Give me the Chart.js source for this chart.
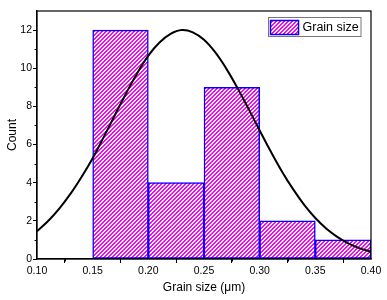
<!DOCTYPE html>
<html>
<head>
<meta charset="utf-8">
<script src="https://cdn.jsdelivr.net/npm/chart.js@4"></script>
<style>
html,body{margin:0;padding:0;background:#ffffff;}
#wrap{width:387px;height:300px;position:relative;}
</style>
</head>
<body>
<div id="wrap"><canvas id="c" width="387" height="300"></canvas></div>
<script>
// ---- data ----
const binCenters = [0.175, 0.225, 0.275, 0.325, 0.375];
const counts = [12, 4, 9, 2, 1];
const curveX = [0.10,0.11,0.12,0.13,0.14,0.15,0.16,0.17,0.18,0.19,0.20,0.21,0.22,0.23,0.24,0.25,0.26,0.27,0.28,0.29,0.30,0.31,0.32,0.33,0.34,0.35,0.36,0.37,0.38,0.39,0.40];
const curveY = [1.46,1.99,2.64,3.41,4.30,5.28,6.40,7.55,8.68,9.74,10.66,11.35,11.80,12.00,11.88,11.49,10.84,9.98,8.97,7.87,6.74,5.63,4.59,3.66,2.84,2.15,1.59,1.15,0.81,0.56,0.38];
const xTicks = [0.10, 0.15, 0.20, 0.25, 0.30, 0.35, 0.40];
const xMinorTicks = [0.125, 0.175, 0.225, 0.275, 0.325, 0.375];
const yTicks = [0, 2, 4, 6, 8, 10, 12];
const yMinorTicks = [1, 3, 5, 7, 9, 11];
const seriesName = 'Grain size';
const xTitle = 'Grain size (μm)';
const yTitle = 'Count';

// crisp pixel hatch pattern ("/" direction)
function makeHatch(){
  const t = document.createElement('canvas');
  const s = 4;
  t.width = s; t.height = s;
  const g = t.getContext('2d');
  g.fillStyle = '#ffffff';
  g.fillRect(0,0,s,s);
  g.fillStyle = '#ff00ff';
  for (let y = 0; y < s; y++) {
    for (let x = 0; x < s; x++) {
      if (((x + y) % s) < 2) g.fillRect(x, y, 1, 1);
    }
  }
  return document.getElementById('c').getContext('2d').createPattern(t, 'repeat');
}
const hatch = makeHatch();
const FONT = "Arial, 'Liberation Sans', sans-serif";

const framePlugin = {
  id: 'frame',
  afterDraw(chart){
    const {ctx, chartArea: a, scales} = chart;
    ctx.save();
    ctx.strokeStyle = '#000';
    ctx.lineWidth = 1.2;
    ctx.strokeRect(a.left, a.top, a.right - a.left, a.bottom - a.top);
    // minor ticks
    ctx.lineWidth = 1;
    ctx.beginPath();
    xMinorTicks.forEach(v => {
      const x = Math.round(scales.x.getPixelForValue(v)) + 0.5;
      ctx.moveTo(x, a.bottom); ctx.lineTo(x, a.bottom + 2.5);
    });
    yMinorTicks.forEach(v => {
      const y = Math.round(scales.y.getPixelForValue(v)) + 0.5;
      ctx.moveTo(a.left, y); ctx.lineTo(a.left - 2.5, y);
    });
    ctx.stroke();
    // legend
    const lx = 268.5, ly = 17.5, lw = 92.5, lh = 19;
    ctx.fillStyle = '#fff';
    ctx.fillRect(lx, ly, lw, lh);
    ctx.strokeStyle = '#777';
    ctx.lineWidth = 1;
    ctx.strokeRect(lx, ly, lw, lh);
    ctx.fillStyle = hatch;
    ctx.fillRect(270.5, 20.5, 28, 14);
    ctx.strokeStyle = '#0000ff';
    ctx.lineWidth = 1.5;
    ctx.strokeRect(270.5, 20.5, 28, 14);
    ctx.fillStyle = '#000';
    ctx.font = '12.5px ' + FONT;
    ctx.textBaseline = 'middle';
    ctx.textAlign = 'left';
    ctx.fillText(seriesName, 302.5, 27.5);
    ctx.restore();
  }
};

new Chart(document.getElementById('c'), {
  type: 'bar',
  data: {
    datasets: [
      {
        type: 'line',
        label: 'fit',
        data: curveX.map((x, i) => ({x: x, y: curveY[i]})),
        borderColor: '#000',
        borderWidth: 2,
        pointRadius: 0,
        tension: 0.4,
        fill: false,
        order: 0
      },
      {
        type: 'bar',
        label: seriesName,
        data: binCenters.map((x, i) => ({x: x, y: counts[i]})),
        backgroundColor: hatch,
        borderColor: '#0000ff',
        borderWidth: 1.5,
        borderSkipped: false,
        barPercentage: 1.0,
        categoryPercentage: 1.0,
        order: 1
      }
    ]
  },
  options: {
    responsive: false,
    animation: false,
    devicePixelRatio: 1,
    layout: {padding: {top: 11, right: 16, bottom: 0, left: 0}},
    plugins: {legend: {display: false}, tooltip: {enabled: false}},
    scales: {
      x: {
        type: 'linear',
        min: 0.10, max: 0.40,
        offset: false,
        afterBuildTicks(s){ s.ticks = xTicks.map(v => ({value: v})); },
        afterFit(s){ s.height = 41; },
        ticks: {
          color: '#000', padding: 2, maxRotation: 0, autoSkip: false,
          font: {family: FONT, size: 10.5},
          callback: v => Number(v).toFixed(2)
        },
        grid: {drawOnChartArea: false, drawTicks: true, tickLength: 4, color: '#000'},
        border: {display: true, color: '#000', width: 1.2},
        title: {display: true, text: xTitle, color: '#000', font: {family: FONT, size: 12}, padding: {top: 0, bottom: 5}}
      },
      y: {
        type: 'linear',
        min: 0, max: 13,
        afterBuildTicks(s){ s.ticks = yTicks.map(v => ({value: v})); },
        afterFit(s){ s.width = 37; },
        ticks: {
          color: '#000', padding: 1,
          font: {family: FONT, size: 10.5}
        },
        grid: {drawOnChartArea: false, drawTicks: true, tickLength: 4, color: '#000'},
        border: {display: true, color: '#000', width: 1.2},
        title: {display: true, text: yTitle, color: '#000', font: {family: FONT, size: 12}, padding: {top: 5, bottom: 0}}
      }
    }
  },
  plugins: [framePlugin]
});
</script>
</body>
</html>
